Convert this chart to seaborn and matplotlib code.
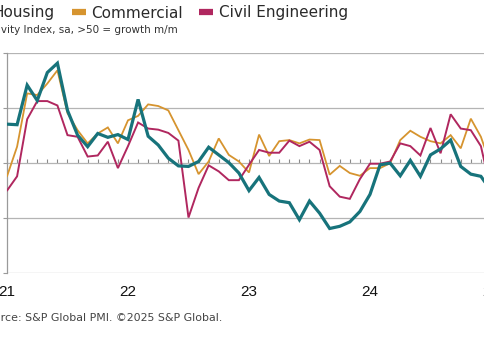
import numpy as np
import pandas as pd
import matplotlib
matplotlib.use("Agg")
import matplotlib.pyplot as plt
import seaborn as sns

# Monthly index values, Jan 2021 .. Jan 2025
housing = [57.1, 57.0, 64.2, 61.4, 66.5, 68.2, 59.6, 55.1, 53.0, 55.4, 54.7, 55.2,
           54.3, 61.6, 54.9, 53.3, 50.9, 49.5, 49.4, 50.3, 52.9, 51.5, 50.1, 48.2,
           45.0, 47.4, 44.3, 43.1, 42.8, 39.7, 43.1, 40.9, 38.1, 38.5, 39.3, 41.2,
           44.3, 49.7, 50.0, 47.7, 50.5, 47.6, 51.5, 52.6, 54.2, 49.4, 48.0, 47.6,
           45.0]
commercial = [47.6, 53.0, 62.7, 62.4, 64.5, 66.9, 59.1, 56.0, 53.6, 55.4, 56.5, 53.6,
              57.8, 58.6, 60.7, 60.4, 59.6, 56.0, 52.4, 48.0, 50.3, 54.5, 51.5, 50.3,
              48.3, 55.2, 51.3, 54.0, 54.2, 53.6, 54.3, 54.2, 47.9, 49.5, 48.2, 47.7,
              49.1, 49.1, 50.0, 54.2, 55.9, 54.8, 54.0, 53.6, 55.1, 52.7, 58.1, 54.8,
              49.5]
civil = [45.0, 47.6, 58.0, 61.3, 61.3, 60.5, 55.1, 54.8, 51.2, 51.4, 53.9, 49.1,
         53.1, 57.4, 56.3, 56.1, 55.5, 54.1, 40.1, 45.5, 49.6, 48.5, 46.9, 46.9,
         49.7, 52.4, 51.9, 51.9, 54.1, 53.1, 53.9, 52.4, 45.8, 43.9, 43.5, 47.1,
         49.9, 49.9, 50.3, 53.6, 53.1, 51.4, 56.4, 51.8, 58.9, 56.3, 56.0, 53.1,
         45.0]
series_names = ["Housing", "Commercial", "Civil Engineering"]
year_labels = ["21", "22", "23", "24", "25"]
colors = {"Housing": "#17737b", "Commercial": "#d6942f", "Civil Engineering": "#b0275f"}

months = np.arange(len(housing))
df = pd.DataFrame({
    "month": np.concatenate([months] * 3),
    "value": housing + commercial + civil,
    "sector": np.repeat(series_names, len(months)),
})

sns.set_theme(style="white")
plt.rcParams["font.family"] = ["DejaVu Sans"]

W, H = 485, 337
fig = plt.figure(figsize=(W / 100, H / 100), dpi=100)
px_per_month = 10.083
x_left = 7
xmax = 48.6
ax_w = xmax * px_per_month / W
ax = fig.add_axes([x_left / W, 64 / H, ax_w, (273 - 53.3) / H])

sns.lineplot(data=df, x="month", y="value", hue="sector", hue_order=series_names,
             palette=colors, ax=ax, legend=True)
widths = {"Housing": 2.3, "Commercial": 1.3, "Civil Engineering": 1.4}
zorders = {"Housing": 5, "Commercial": 3, "Civil Engineering": 4}
for line, name in zip(ax.get_lines()[:3], series_names):
    line.set_linewidth(widths[name])
    line.set_zorder(zorders[name])
    line.set_solid_joinstyle("miter")

ax.set_xlim(0, xmax)
ax.set_ylim(30, 70)
ax.set_yticks([30, 40, 50, 60, 70])
ax.set_yticklabels([])
ax.tick_params(axis="y", length=3, color="#9a9a9a", width=0.8, left=True)
ax.set_xticks([0, 12, 24, 36, 48])
ax.set_xticklabels(year_labels, fontsize=11, family="Liberation Sans", color="#111111")
ax.tick_params(axis="x", length=0, pad=9)
ax.set_xlabel("")
ax.set_ylabel("")
ax.grid(axis="y", color="#b4b4b4", linewidth=0.9)
ax.set_axisbelow(True)
for s in ["top", "right", "bottom"]:
    ax.spines[s].set_visible(False)
ax.spines["left"].set_color("#9a9a9a")
ax.spines["left"].set_linewidth(0.9)

sec = ax.secondary_xaxis(0.5)
sec.set_xticks(np.arange(0, 49))
sec.set_xticklabels([])
sec.tick_params(axis="x", direction="out", length=3, color="#8a8a8a", width=0.8)
sec.spines["bottom"].set_color("#8a8a8a")
sec.spines["bottom"].set_linewidth(0.9)
sec.spines["top"].set_visible(False)

LEG_KW = dict(loc="upper left", bbox_transform=fig.transFigure, ncol=3, frameon=False,
              title=None, fontsize=11.0, handlelength=0.9, handletextpad=0.35,
              columnspacing=1.1, borderaxespad=0, borderpad=0)


def style_legend():
    lg = ax.get_legend()
    for h in lg.legend_handles:
        h.set_linewidth(4.5)
        h.set_solid_capstyle("butt")
    for t in lg.get_texts():
        t.set_color("#2a2a2a")
    return lg


sns.move_legend(ax, bbox_to_anchor=(0, 1), **LEG_KW)
leg = style_legend()

fig.text(178 / W, 1 - 33 / H, "Activity Index, sa, >50 = growth m/m", ha="right",
         va="baseline", fontsize=7.5, color="#333333")
fig.text(222 / W, 1 - 321 / H, "Source: S&P Global PMI. ©2025 S&P Global.", ha="right",
         va="baseline", fontsize=7.9, color="#444444")

# place legend so "Commercial" text starts at x=91 px with its centre ~13 px from top
fig.canvas.draw()
bb = leg.get_texts()[1].get_window_extent()
dx = 91 - bb.x0
dy = (H - 13) - (bb.y0 + bb.y1) / 2
sns.move_legend(ax, bbox_to_anchor=(dx / W, 1 + dy / H), **LEG_KW)
leg = style_legend()

fig.savefig("out.png", dpi=100)
